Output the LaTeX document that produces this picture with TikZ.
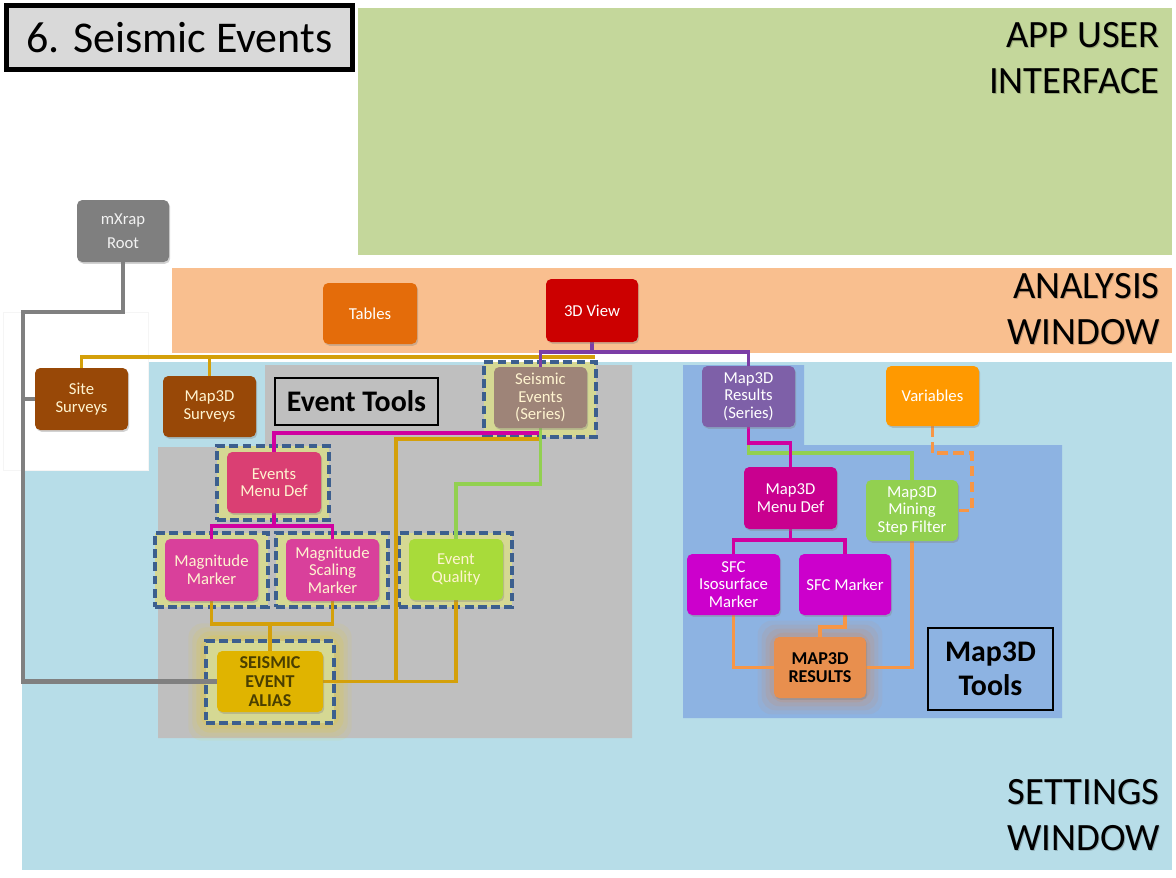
\documentclass[tikz,border=0pt]{standalone}
\usepackage{fontspec}
\setmainfont{Carlito}
\usetikzlibrary{shadows,calc}
\definecolor{cUI}{HTML}{C4D79B}
\definecolor{cAna}{HTML}{F9BF8F}
\definecolor{cSet}{HTML}{B7DDE8}
\definecolor{cGrayReg}{HTML}{BFBFBF}
\definecolor{cBlueReg}{HTML}{8DB3E2}
\definecolor{cTitle}{HTML}{D9D9D9}
\definecolor{cRoot}{HTML}{7F7F7F}
\definecolor{cTables}{HTML}{E46C0A}
\definecolor{cView}{HTML}{CC0000}
\definecolor{cBrown}{HTML}{984807}
\definecolor{cSeis}{HTML}{9E8478}
\definecolor{cPurpleBox}{HTML}{7E60A8}
\definecolor{cVar}{HTML}{FF9900}
\definecolor{cEvMenu}{HTML}{DA3F73}
\definecolor{cMag}{HTML}{D9409B}
\definecolor{cEvQ}{HTML}{A8DB3A}
\definecolor{cAlias}{HTML}{E0B400}
\definecolor{cMapMenu}{HTML}{C9008F}
\definecolor{cFilter}{HTML}{92D050}
\definecolor{cSFC}{HTML}{CC00CC}
\definecolor{cResults}{HTML}{E88F4E}
\definecolor{cHL}{HTML}{D5D893}
\definecolor{cHLBorder}{HTML}{3C5F8E}
\definecolor{lGray}{HTML}{808080}
\definecolor{lGold}{HTML}{D4A00A}
\definecolor{lMag}{HTML}{D000A0}
\definecolor{lGreen}{HTML}{92D050}
\definecolor{lPurple}{HTML}{7B3DA6}
\definecolor{lOrange}{HTML}{F79646}
\definecolor{cCream}{HTML}{FFF4D0}
\definecolor{cAliasTxt}{HTML}{4A3F00}
\definecolor{cGlowY}{HTML}{F2D000}
\definecolor{cGlowO}{HTML}{E8803A}
\pgfdeclarelayer{regions}
\pgfdeclarelayer{glow}
\pgfdeclarelayer{hl}
\pgfdeclarelayer{lines}
\pgfsetlayers{regions,glow,hl,lines,main}
\tikzset{
  sz/.style 2 args={minimum width={#1*0.02cm},minimum height={#2*0.02cm}},
  box/.style={rounded corners=3pt, inner sep=1pt, align=center, text=white,
    font=\fontsize{9.5}{10}\selectfont,
    drop shadow={shadow xshift=0.7pt,shadow yshift=-1pt,opacity=0.35}},
  hlbox/.style={fill=cHL, draw=cHLBorder, line width=1.9pt, dash pattern=on 5pt off 2.5pt, inner sep=0pt},
  conn/.style={line width=2.2pt},
  regionlabel/.style={anchor=north east, inner sep=0pt, align=right, font=\fontsize{22}{26}\selectfont},
  labelshadow/.style={regionlabel, text=black, opacity=0.2},
  toollabel/.style={draw=black, line width=1.3pt, align=center, font=\bfseries\fontsize{17}{19.3}\selectfont}
}
\begin{document}
\begin{tikzpicture}[x=0.02cm,y=-0.02cm]
\useasboundingbox (0,0) rectangle (1176,877);

\begin{pgfonlayer}{regions}
\fill[white] (0,0) rectangle (1176,877);
\fill[cUI] (358,8) rectangle (1172,255);
\fill[cAna] (172,268) rectangle (1172,353);
\fill[cSet] (22,362) rectangle (1172,870);
\filldraw[fill=white, draw=black!4] (3,312) rectangle (148,470);
\fill[cGrayReg] (265,365) -- (632,365) -- (632,738) -- (158,738) -- (158,447) -- (265,447) -- cycle;
\fill[cBlueReg] (683,365) -- (804,365) -- (804,445) -- (1062,445) -- (1062,718) -- (683,718) -- cycle;
\end{pgfonlayer}

% labels
\node[draw=black, line width=2.8pt, fill=cTitle, sz={346}{64}, font=\fontsize{25}{28}\selectfont] (title) at (179.5,37.5) {6. Seismic Events};
\node[labelshadow] (lbluis) at (1161,23) {APP USER\\INTERFACE};
\node[labelshadow] (lblanas) at (1161,274) {ANALYSIS\\WINDOW};
\node[labelshadow] (lblsets) at (1161,780) {SETTINGS\\WINDOW};
\node[regionlabel] (lblui) at (1160,22) {APP USER\\INTERFACE};
\node[regionlabel] (lblana) at (1160,273) {ANALYSIS\\WINDOW};
\node[regionlabel] (lblset) at (1160,779) {SETTINGS\\WINDOW};
\node[toollabel, fill=cGrayReg, sz={163}{47}] (evtools) at (356.5,401.5) {Event Tools};
\node[toollabel, fill=cBlueReg, sz={125}{82}] (m3dtools) at (990.5,669) {Map3D\\Tools};

% boxes
\node[box, fill=cRoot, sz={92}{62}, text=black!5, font=\fontsize{9.5}{13.6}\selectfont] (root) at (123,231) {mXrap\\Root};
\node[box, fill=cTables, sz={94}{61}] (tables) at (370,313.5) {Tables};
\node[box, fill=cView, sz={92}{63}] (view3d) at (592,310.5) {3D View};
\node[box, fill=cBrown, sz={93}{62}, text=cCream] (site) at (81.5,399) {Site\\Surveys};
\node[box, fill=cBrown, sz={93}{61}, text=cCream] (m3dsurv) at (209.5,406.5) {Map3D\\Surveys};
\node[box, fill=cSeis, sz={93}{61}, text=cCream] (seisev) at (540.5,397.5) {Seismic\\Events\\(Series)};
\node[box, fill=cPurpleBox, sz={93}{61}] (m3dres) at (748.5,396.5) {Map3D\\Results\\(Series)};
\node[box, fill=cVar, sz={93}{60}] (variables) at (932.5,396) {Variables};
\node[box, fill=cEvMenu, sz={94}{61}, text=cCream] (evmenu) at (274,482.5) {Events\\Menu Def};
\node[box, fill=cMag, sz={93}{62}, text=cCream] (magm) at (211.5,570) {Magnitude\\Marker};
\node[box, fill=cMag, sz={93}{62}, text=cCream] (magsm) at (332.5,570) {Magnitude\\Scaling\\Marker};
\node[box, fill=cEvQ, sz={94}{61}, text=cCream] (evq) at (456,569.5) {Event\\Quality};
\node[box, fill=cAlias, sz={106}{61}, text=cAliasTxt, font=\bfseries\fontsize{10.3}{10.8}\selectfont] (alias) at (270,681.5) {SEISMIC\\EVENT\\ALIAS};
\node[box, fill=cMapMenu, sz={93}{62}] (m3dmenu) at (790.5,498) {Map3D\\Menu Def};
\node[box, fill=cFilter, sz={92}{61}] (filter) at (912,510.5) {Map3D\\Mining\\Step Filter};
\node[box, fill=cSFC, sz={93}{61}] (sfciso) at (733.5,584.5) {SFC\\Isosurface\\Marker};
\node[box, fill=cSFC, sz={92}{61}] (sfcm) at (845,584.5) {SFC Marker};
\node[box, fill=cResults, sz={92}{61}, text=black, font=\bfseries\fontsize{10.3}{10.3}\selectfont] (m3dresults) at (820,667.5) {MAP3D\\RESULTS};

% highlights
\begin{pgfonlayer}{hl}
\node[hlbox, sz={112}{75}] (seisevhl) at (540,399.5) {};
\node[hlbox, sz={112}{74}] (evmenuhl) at (273,483) {};
\node[hlbox, sz={113}{74}] (magmhl) at (211.5,570) {};
\node[hlbox, sz={112}{74}] (magsmhl) at (332,570) {};
\node[hlbox, sz={113}{74}] (evqhl) at (455.5,570) {};
\node[hlbox, sz={128}{82}] (aliashl) at (270,682) {};
\end{pgfonlayer}

% glows
\begin{pgfonlayer}{glow}
\foreach \g/\o in {16/0.07,12/0.09,8/0.11,4/0.14}{
  \fill[cGlowY, opacity=\o, rounded corners=8pt] ($(aliashl.north west)+(-\g,-\g)$) rectangle ($(aliashl.south east)+(\g,\g)$);
  \fill[cGlowO, opacity=\o, rounded corners=8pt] ($(m3dresults.north west)+(-\g,-\g)$) rectangle ($(m3dresults.south east)+(\g,\g)$);
}
\end{pgfonlayer}

% connectors
\begin{pgfonlayer}{lines}
\coordinate (gL) at (23,312);
\coordinate (gA) at (595,357);
\coordinate (gB) at (396,439);
\coordinate (gJ) at (270,624);
\coordinate (pJ) at (592,352);
\coordinate (vA) at (972,453);
\draw[conn, lGray, line width=2.6pt] (root.south) |- (gL) |- (alias.west);
\draw[conn, lGray, line width=2.6pt] (gL) |- (site.west);
\draw[conn, lGold] (site.north) |- (gA);
\draw[conn, lGold] (m3dsurv.north) -- (m3dsurv.north |- gA);
\draw[conn, lGold] (seisev.south) |- (gB) -- (gB |- alias.east);
\draw[conn, lGold] (evq.south) |- (alias.east);
\draw[conn, lGold] (magm.south) |- (gJ) -| (magsm.south);
\draw[conn, lGold] (gJ) -- (alias.north);
\draw[conn, lPurple] (view3d.south) -- (pJ);
\draw[conn, lPurple] (seisev.north) |- (pJ) -| (m3dres.north);
\draw[conn, lMag] (seisev.south) -- ++(0,5) -| (evmenu.north);
\draw[conn, lMag] (evmenu.south) -- ++(0,13) -| (magm.north);
\draw[conn, lMag] (evmenu.south) -- ++(0,13) -| (magsm.north);
\draw[conn, lGreen] (seisev.south) -- ++(0,56) -| (evq.north);
\draw[conn, lGreen] (m3dres.south) -- ++(0,26) -| (filter.north);
\draw[conn, lMag] (m3dres.south) -- ++(0,16) -| (m3dmenu.north);
\draw[conn, lMag] (m3dmenu.south) -- ++(0,11) -| (sfciso.north);
\draw[conn, lMag] (m3dmenu.south) -- ++(0,11) -| (sfcm.north);
\draw[conn, lOrange] (sfciso.south) |- (m3dresults.west);
\draw[conn, lOrange] (sfcm.south) -- ++(0,12) -| (m3dresults.north);
\draw[conn, lOrange] (filter.south) |- (m3dresults.east);
\draw[conn, lOrange, dash pattern=on 6pt off 3pt] (variables.south) |- (vA) |- (filter.east);
\end{pgfonlayer}
\end{tikzpicture}
\end{document}
